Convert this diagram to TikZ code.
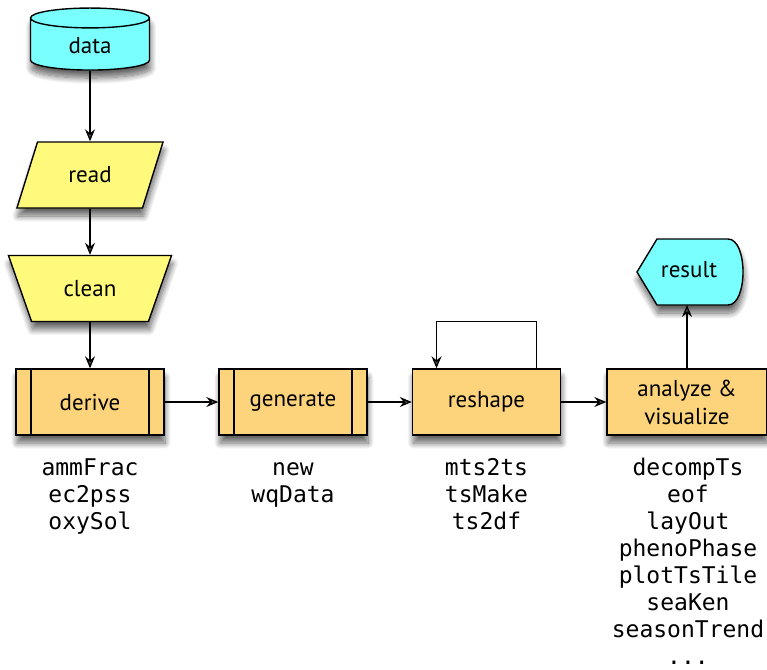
\documentclass[tikz,border=0pt]{standalone}
\usepackage{fontspec}
\setmainfont{PT Sans}
\setmonofont{DejaVu Sans Mono}
\usetikzlibrary{shapes.geometric,arrows.meta,shadows.blur}
\definecolor{dbcyan}{HTML}{7AFFFF}
\definecolor{ioyellow}{HTML}{FFF97C}
\definecolor{stepgold}{HTML}{FDD47B}
\begin{document}
\begin{tikzpicture}[x=1pt,y=-1pt,
    shade/.style={blur shadow={shadow xshift=1pt,shadow yshift=-8pt,shadow blur radius=6pt,shadow blur steps=12,shadow opacity=60}},
    base/.style={draw,line width=1.4pt,font=\fontsize{23}{28}\selectfont,align=center,shade},
    db/.style={base,cylinder,shape border rotate=90,shape aspect=0.4,fill=dbcyan,minimum width=119pt,minimum height=62pt},
    io/.style={base,trapezium,trapezium stretches=true,fill=ioyellow,minimum height=66pt},
    proc/.style={base,rectangle,fill=stepgold,minimum width=148pt,minimum height=66pt},
    sub/.style={proc,path picture={
        \draw[line width=1.4pt] ([xshift=15pt]path picture bounding box.north west) -- ([xshift=15pt]path picture bounding box.south west);
        \draw[line width=1.4pt] ([xshift=-15pt]path picture bounding box.north east) -- ([xshift=-15pt]path picture bounding box.south east);}},
    fns/.style={font=\ttfamily\fontsize{23}{27}\selectfont,align=center,anchor=north,inner sep=0pt},
    arr/.style={-{Stealth[length=12pt,width=10pt,inset=4pt]},line width=1.3pt}]
    \useasboundingbox (0,0) rectangle (767,669);
    % input side
    \node[db] (data) at (90,46) {data};
    \node[io,trapezium left angle=67,trapezium right angle=113,minimum width=147pt] (read) at (90,175) {read};
    \node[io,shape border rotate=180,trapezium left angle=63,trapezium right angle=63,minimum width=164pt] (clean) at (90,288.5) {clean};
    % processing steps
    \node[sub] (derive) at (90,402) {derive};
    \node[sub] (generate) at (293,402) {generate};
    \node[proc] (reshape) at (486.5,402) {reshape};
    \node[proc,minimum width=160pt] (analyze) at (687,402) {analyze \&\\visualize};
    % output
    \path[base,fill=dbcyan] (637,272) -- (657,239) -- (728,239) .. controls (748,239) and (748,305) .. (728,305) -- (657,305) -- cycle;
    \node[font=\fontsize{23}{28}\selectfont,minimum width=106pt,minimum height=66pt] (result) at (689,270) {result};
    % connectors
    \draw[arr] (data.south) -- (data.south |- read.north);
    \draw[arr] (read.south) -- (read.south |- clean.north);
    \draw[arr] (clean.south) -- (clean.south |- derive.north);
    \draw[arr] (derive) -- (generate);
    \draw[arr] (generate) -- (reshape);
    \draw[arr] (reshape) -- (analyze);
    \draw[arr] ([xshift=50pt]reshape.north) -- ++(0,-47) -| ([xshift=-50pt]reshape.north);
    \draw[arr] (analyze.north) -- (analyze.north |- 0,305);
    % function names
    \node[fns] (deriveFns) at (90,456) {\strut ammFrac\\ec2pss\\oxySol};
    \node[fns] (generateFns) at (293,456) {\strut new\\wqData};
    \node[fns] (reshapeFns) at (486.5,456) {\strut mts2ts\\tsMake\\ts2df};
    \node[fns] (analyzeFns) at (688,456) {\strut decompTs\\eof\\layOut\\phenoPhase\\plotTsTile\\seaKen\\seasonTrend\\...};
\end{tikzpicture}
\end{document}
